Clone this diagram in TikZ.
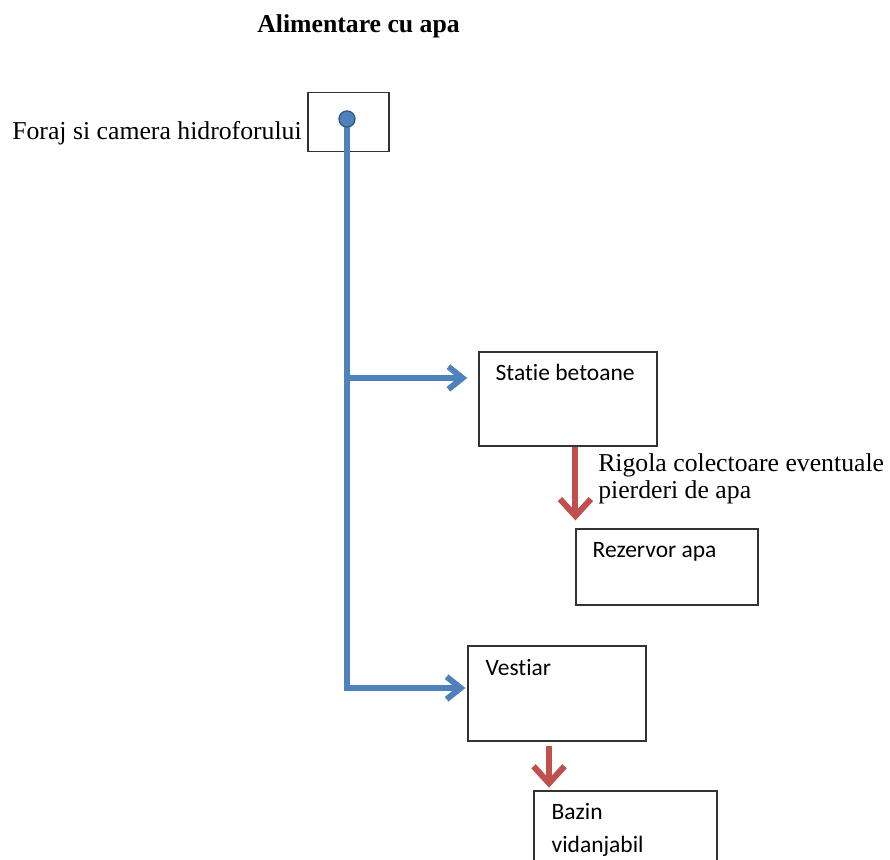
\documentclass[tikz,border=0pt]{standalone}
\usepackage{fontspec}
\setmainfont{Liberation Serif}
\newfontfamily\boxfont[Ligatures=NoCommon]{Carlito}
\usetikzlibrary{arrows.meta}
\definecolor{pipeblue}{HTML}{4F81BD}
\definecolor{drainred}{HTML}{C0504D}
\begin{document}
\begin{tikzpicture}[x=0.025cm,y=-0.025cm,
  box/.style={draw=black!80,line width=0.8pt,inner sep=0pt},
  boxtext/.style={anchor=base west,inner sep=0pt,align=left,
    font=\boxfont\fontsize{16.7}{23.5}\selectfont},
  serif/.style={inner sep=0pt,align=left,font=\fontsize{18.3}{18.5}\selectfont},
  pipe/.style={pipeblue,line width=4.2pt,-{Straight Barb[length=10pt,width=16pt]}},
  drain/.style={drainred,line width=4.3pt,-{Straight Barb[length=12pt,width=22pt]}},
  welldot/.style={circle,fill=pipeblue,draw=pipeblue!70!black,line width=1pt,
    inner sep=0pt,minimum size=0.4cm}]
  \clip (0,0) rectangle (890,860);
  \node[serif,anchor=base west,font=\fontsize{18.3}{18.5}\selectfont\bfseries] (title) at (257,33) {Alimentare cu apa};

  % boxes
  \node[box,minimum width=2.025cm,minimum height=1.475cm] (foraj) at (348.5,122) {};
  \node[serif,anchor=base east] (forajlbl) at (302,140) {Foraj si camera hidroforului};
  \node[box,minimum width=4.45cm,minimum height=2.35cm] (statie) at (568,399) {};
  \node[boxtext] at ([shift={(17,29)}]statie.north west) {Statie betoane};
  \node[box,minimum width=4.55cm,minimum height=1.9cm] (rezervor) at (667,567) {};
  \node[boxtext] at ([shift={(17,29)}]rezervor.north west) {Rezervor apa};
  \node[box,minimum width=4.45cm,minimum height=2.375cm] (vestiar) at (557,693.5) {};
  \node[boxtext] at ([shift={(18,30)}]vestiar.north west) {Vestiar};
  \node[box,minimum width=4.575cm,minimum height=2.5cm] (bazin) at (625.5,841) {};
  \node[boxtext] at ([shift={(18,62)}]bazin.north west) {Bazin\\vidanjabil};

  % water supply
  \coordinate (well) at (347,119);
  \coordinate (tee1) at (347,378);
  \coordinate (tee2) at (347,688);
  \draw[pipe,shorten >=0.05cm] (well) -- (tee2) -- (tee2 -| vestiar.west);
  \draw[pipe,shorten >=0.28cm] (tee1) -- (tee1 -| statie.west);
  \node[welldot] (dot) at (well) {};

  % drainage
  \draw[drain,shorten >=0.2cm] (statie.south -| rezervor.west) -- (rezervor.north west);
  \node[serif,anchor=base west] (rigola) at (598,498) {Rigola colectoare eventuale\\pierderi de apa};
  \draw[drain,shorten <=0.1cm,shorten >=0.07cm] ([xshift=-0.2cm]vestiar.south) -- ([xshift=-0.2cm]vestiar.south |- bazin.north);
\end{tikzpicture}
\end{document}
